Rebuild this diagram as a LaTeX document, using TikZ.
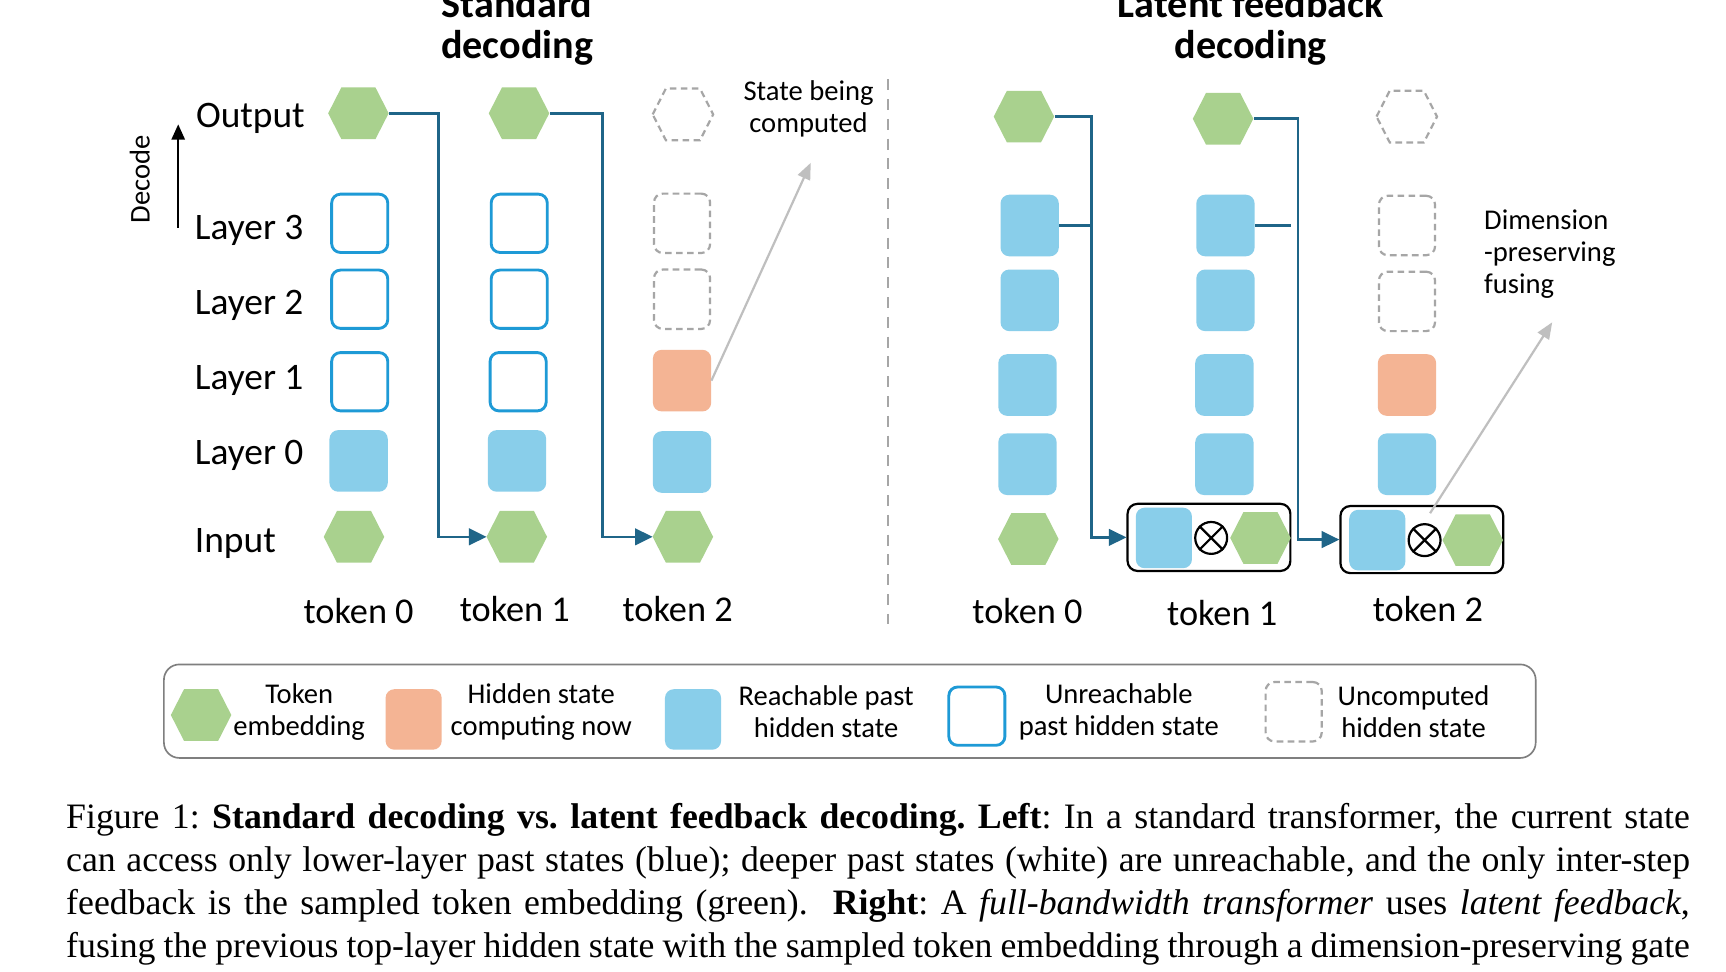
\documentclass[tikz,border=0pt]{standalone}
\usepackage{fontspec}
\setmainfont{Carlito}
\newfontfamily\capfont{Liberation Serif}
\usetikzlibrary{arrows.meta,calc}
\definecolor{hexgreen}{HTML}{A9D18E}
\definecolor{stateblue}{HTML}{89CEEA}
\definecolor{noworange}{HTML}{F4B494}
\definecolor{edgeblue}{HTML}{1E9AD6}
\definecolor{linkblue}{HTML}{1F6588}
\definecolor{dashgray}{HTML}{A6A6A6}
\definecolor{notegray}{HTML}{BFBFBF}
\definecolor{legframe}{HTML}{7F7F7F}
\newcommand\hexat[3]{%
  \node[hexbox] (#1) at (#2) {};
  \path[#3] (#1.west) -- ++(12,-23.5) -- ++(31,0) -- ++(12,23.5) -- ++(-12,23.5) -- ++(-31,0) -- cycle;}
\begin{document}
\begin{tikzpicture}[x=1pt,y=-1pt,
  cell/.style={rectangle, rounded corners=8pt, minimum width=53pt, minimum height=56pt, inner sep=0pt},
  reach/.style={cell, fill=stateblue},
  nowst/.style={cell, fill=noworange},
  unreach/.style={cell, draw=edgeblue, fill=white, line width=2.6pt, minimum width=51pt, minimum height=53pt},
  uncomp/.style={cell, draw=dashgray, line width=2pt, dash pattern=on 6pt off 4pt, minimum width=51pt, minimum height=54pt},
  hexbox/.style={rectangle, minimum width=55pt, minimum height=47pt, inner sep=0pt},
  hexfill/.style={fill=hexgreen},
  hexdash/.style={draw=dashgray, line width=2pt, dash pattern=on 6pt off 4pt},
  link/.style={draw=linkblue, line width=2.4pt},
  linkarrow/.style={link, -{Triangle[length=16pt,width=15pt]}},
  note/.style={draw=notegray, line width=2pt, -{Triangle[length=15pt,width=12pt]}},
  fusebox/.style={rectangle, rounded corners=9pt, draw=black, line width=2pt, minimum width=148pt, minimum height=61pt, inner sep=0pt},
  otimes/.style={circle, draw=black, line width=2pt, minimum size=29pt, inner sep=0pt},
  rowlbl/.style={anchor=base west, inner sep=0pt, font=\fontsize{34}{40}\selectfont},
  toklbl/.style={anchor=base, inner sep=0pt, font=\fontsize{33}{40}\selectfont},
  ttl/.style={anchor=base, inner sep=0pt, font=\fontsize{36.5}{37}\selectfont\bfseries},
  small/.style={align=center, inner sep=0pt, font=\fontsize{26}{29}\selectfont},
  caption/.style={anchor=base west, inner sep=0pt, font=\fontsize{32.5}{39}\selectfont\capfont\frenchspacing}
]
\fill[white] (0,0) rectangle (1569,883);
\useasboundingbox (0,0) rectangle (1569,883);
\clip (0,0) rectangle (1569,883);

% titles
\node[ttl] (t1a) at (470,16) {Standard};
\node[ttl] (t1b) at (470,53) {decoding};
\node[ttl] (t2a) at (1137,16) {Latent feedback};
\node[ttl] (t2b) at (1137,53) {decoding};

% decode arrow
\coordinate (dec0) at (162,207);
\coordinate (dec1) at (162,113);
\draw[line width=2.2pt, -{Triangle[length=14pt,width=12pt]}] (dec0) -- (dec1);
\node[rotate=90, inner sep=0pt, font=\fontsize{26}{29}\selectfont] (dec) at (127,163) {Decode};

% row labels
\node[rowlbl] (rO) at (178,116) {Output};
\node[rowlbl] (r3) at (177,218) {Layer 3};
\node[rowlbl] (r2) at (177,286) {Layer 2};
\node[rowlbl] (r1) at (177,354) {Layer 1};
\node[rowlbl] (r0) at (177,422) {Layer 0};
\node[rowlbl] (rI) at (177,502) {Input};

% ---- left panel
\hexat{ao}{326,103}{hexfill}
\node[unreach] (a3) at (327,203) {};
\node[unreach] (a2) at (327,272) {};
\node[unreach] (a1) at (327,347) {};
\node[reach] (a0) at (326,419) {};
\hexat{ai}{322,488}{hexfill}

\hexat{bo}{472,103}{hexfill}
\node[unreach] (b3) at (472,203) {};
\node[unreach] (b2) at (472,272) {};
\node[unreach] (b1) at (471,347) {};
\node[reach] (b0) at (470,419) {};
\hexat{bi}{470,488}{hexfill}

\hexat{co}{621,104}{hexdash}
\node[uncomp] (c3) at (620,203) {};
\node[uncomp] (c2) at (620,272) {};
\node[nowst] (c1) at (620,346) {};
\node[reach] (c0) at (620,420) {};
\hexat{ci}{621,488}{hexfill}

\draw[linkarrow] (ao.east) -- ++(45,0) |- (bi.west);
\draw[linkarrow] (bo.east) -- ++(48,0) |- (ci.west);

\node[toklbl] (la) at (326,567) {token 0};
\node[toklbl] (lb) at (468,565) {token 1};
\node[toklbl] (lc) at (616,565) {token 2};

\coordinate (tip1) at (737,148);
\draw[note] (c1.east) -- (tip1);
\node[small] (n1) at (735,99) {State being\\computed};

% divider
\coordinate (dv0) at (807,72);
\coordinate (dv1) at (807,567);
\draw[dashgray, line width=1.6pt, dash pattern=on 10pt off 8pt] (dv0) -- (dv1);

% ---- right panel
\hexat{do}{931,106}{hexfill}
\node[reach] (d3) at (936,205) {};
\node[reach] (d2) at (936,273) {};
\node[reach] (d1) at (934,350) {};
\node[reach] (d0) at (934,422) {};
\hexat{di}{935,490}{hexfill}

\hexat{eo}{1112,108}{hexfill}
\node[reach] (e3) at (1114,205) {};
\node[reach] (e2) at (1114,273) {};
\node[reach] (e1) at (1113,350) {};
\node[reach] (e0) at (1113,422) {};

\node[fusebox] (f1) at (1099,488.5) {};
\node[reach, minimum width=51pt, minimum height=55pt] (f1s) at (1058,489) {};
\node[otimes] (f1x) at (1101,489) {};
\draw[line width=2pt] (f1x.north west) -- (f1x.south east) (f1x.north east) -- (f1x.south west);
\hexat{f1h}{1146,489}{hexfill}

\hexat{go}{1279,106}{hexdash}
\node[uncomp] (g3) at (1279,205) {};
\node[uncomp] (g2) at (1279,274) {};
\node[nowst] (g1) at (1279,350) {};
\node[reach] (g0) at (1279,422) {};

\node[fusebox] (f2) at (1292.5,490.5) {};
\node[reach, minimum width=51pt, minimum height=55pt] (f2s) at (1252,491) {};
\node[otimes] (f2x) at (1295,491) {};
\draw[line width=2pt] (f2x.north west) -- (f2x.south east) (f2x.north east) -- (f2x.south west);
\hexat{f2h}{1339,491}{hexfill}

\coordinate (j1) at (992,205);
\coordinate (j2) at (1180,205);
\coordinate (j2s) at (1174,205);
\draw[linkarrow] (do.east) -| (j1) |- (f1.west);
\draw[link] (d3.east) -- (j1);
\draw[linkarrow] (eo.east) -| (j2) |- (f2.west);
\draw[link] (e3.east) -- (j2s);

\node[toklbl] (ra) at (934,567) {token 0};
\node[toklbl] (rb) at (1111,569) {token 1};
\node[toklbl] (rc) at (1298,565) {token 2};

\coordinate (tip2) at (1411,293);
\draw[note] ($(f2x.north)+(5,-9)$) -- (tip2);
\node[small, align=left, anchor=west] (n2) at (1349,231) {Dimension\\-preserving\\fusing};

% ---- legend
\node[rectangle, rounded corners=14pt, draw=legframe, line width=1.5pt, minimum width=1247pt, minimum height=85pt, inner sep=0pt] (leg) at (772.5,646.5) {};
\hexat{lh}{183,650}{hexfill}
\node[nowst, minimum width=51pt, minimum height=55pt] (lo) at (376,654) {};
\node[reach, minimum width=51pt, minimum height=55pt] (lbb) at (630,654) {};
\node[unreach] (lu) at (888,651) {};
\node[uncomp] (lc2) at (1176,647) {};
\node[small] (lt1) at (272,647) {Token\\embedding};
\node[small] (lt2) at (492,647) {Hidden state\\computing now};
\node[small] (lt3) at (751,647) {Reachable past\\hidden state};
\node[small] (lt4) at (1017,647) {Unreachable\\past hidden state};
\node[small] (lt5) at (1285,647) {Uncomputed\\hidden state};

% ---- caption
\node[caption] (cap1) at (60,753) {\hbox to 1476pt{Figure 1: \textbf{Standard decoding vs. latent feedback decoding. Left}: In a standard transformer, the current state}};
\node[caption] (cap2) at (60,792) {\hbox to 1476pt{can access only lower-layer past states (blue); deeper past states (white) are unreachable, and the only inter-step}};
\node[caption] (cap3) at (60,831) {\hbox to 1476pt{feedback is the sampled token embedding (green).\ \ \textbf{Right}: A \textit{full-bandwidth transformer} uses \textit{latent feedback},}};
\node[caption] (cap4) at (60,870) {\hbox to 1476pt{fusing the previous top-layer hidden state with the sampled token embedding through a dimension-preserving gate}};
\end{tikzpicture}
\end{document}
